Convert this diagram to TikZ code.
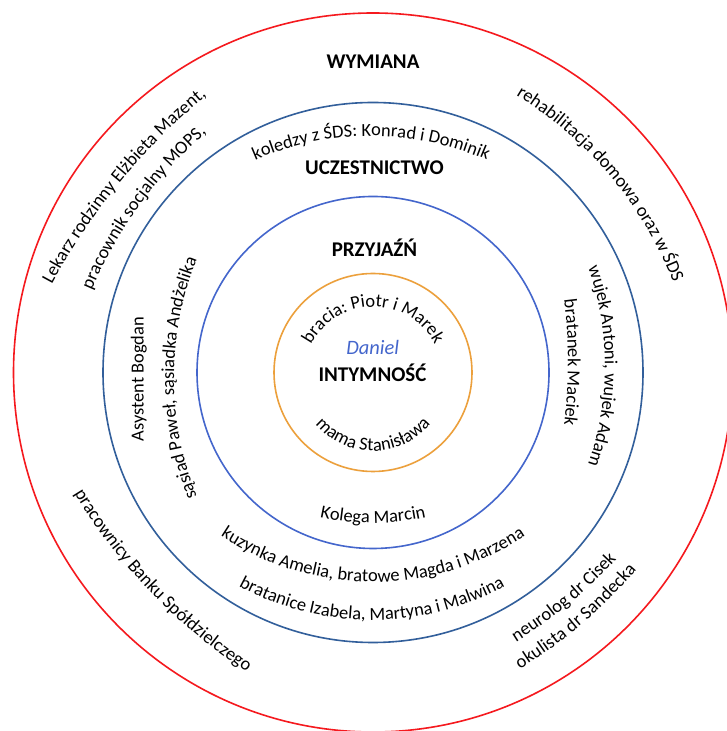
\documentclass[tikz,border=0pt]{standalone}
\usepackage{fontspec}
\setmainfont{Carlito}
\usetikzlibrary{decorations.text}
\definecolor{cRed}{RGB}{245,25,30}
\definecolor{cDark}{RGB}{50,95,155}
\definecolor{cBlue}{RGB}{68,102,204}
\definecolor{cOrange}{RGB}{236,160,60}
\newcommand\txtfont{\fontsize{18.5}{20}\selectfont}
\newcommand\hdfont{\fontsize{21}{23}\selectfont\bfseries}
% #1 Mx  #2 My  #3 tangent angle  #4 radius  #5 half length  #6 (+1 clockwise, -1 counterclockwise)  #7 text
\newcommand\curvtext[7]{%
  \pgfmathsetmacro\ctX{#1+(#6)*(#4)*sin(#3)}%
  \pgfmathsetmacro\ctY{#2-(#6)*(#4)*cos(#3)}%
  \pgfmathsetmacro\ctS{(#5)/(#4)*57.29578}%
  \pgfmathsetmacro\ctA{#3+(#6)*90+(#6)*\ctS}%
  \pgfmathsetmacro\ctB{#3+(#6)*90-(#6)*\ctS}%
  \path[decorate,decoration={text along path,text align=center,text={|\txtfont|#7}}]
    (\ctX,\ctY) ++(\ctA:#4) arc[start angle=\ctA,end angle=\ctB,radius=#4];
}
\begin{document}
\begin{tikzpicture}[x=1bp,y=1bp,
  ring/.style={line width=1.6bp},
  head/.style={inner sep=0pt,font=\hdfont,anchor=base},
  txt/.style={inner sep=0pt,font=\txtfont,anchor=base}]
\useasboundingbox (0,0) rectangle (727,731);
\fill[white] (0,0) rectangle (727,731);
\coordinate (c) at (373,358.5);
% rings
\draw[ring,cRed] (c) circle[radius=359.5];
\draw[ring,cDark] (c) circle[radius=270];
\draw[ring,cBlue] (c) circle[radius=176];
\draw[ring,cOrange] (c) circle[radius=99];
% headings
\node[head] (wym) at (373,662.7) {WYMIANA};
\node[head] (ucz) at (374.5,556.7) {UCZESTNICTWO};
\node[head] (prz) at (374.5,474.6) {PRZYJAŹŃ};
\node[head,font=\fontsize{20.5}{22}\selectfont\itshape,text=cBlue] (dan) at (372.7,376.3) {Daniel};
\node[head] (int) at (372.5,349) {INTYMNOŚĆ};
% straight text
\node[txt,rotate=90] (asy) at (143.5,352) {Asystent Bogdan};
% curved texts
\curvtext{373}{424}{0}{70}{150}{1}{bracia: Piotr i Marek}
\curvtext{373}{280}{0}{75}{130}{-1}{mama Stanisława}
\curvtext{373}{208}{0}{250}{200}{-1}{Kolega Marcin}
\curvtext{373}{149}{0}{275}{230}{-1}{kuzynka Amelia, bratowe Magda i Marzena}
\curvtext{372}{111}{0}{280}{230}{-1}{bratanice Izabela, Martyna i Malwina}
\curvtext{371}{595}{0}{290}{230}{1}{koledzy z ŚDS: Konrad i Dominik}
\curvtext{174}{353}{90}{320}{200}{1}{sąsiad Paweł, sąsiadka Andżelika}
\curvtext{605}{365}{-90}{296}{200}{1}{wujek Antoni, wujek Adam}
\curvtext{568}{369}{-90}{500}{200}{1}{bratanek Maciek}
\curvtext{610}{555}{-50}{380}{230}{1}{rehabilitacja domowa oraz w ŚDS}
\curvtext{120}{548.5}{50.6}{630}{230}{1}{Lekarz rodzinny Elżbieta Mazent,}
\curvtext{140}{526}{54}{430}{200}{1}{pracownik socjalny MOPS,}
\curvtext{150.6}{138.5}{-46}{568}{230}{-1}{pracownicy Banku Spółdzielczego}
\curvtext{569}{127}{39.4}{500}{200}{-1}{neurolog dr Cisek}
\curvtext{582}{107}{40.4}{500}{200}{-1}{okulista dr Sandecka}
\end{tikzpicture}
\end{document}
